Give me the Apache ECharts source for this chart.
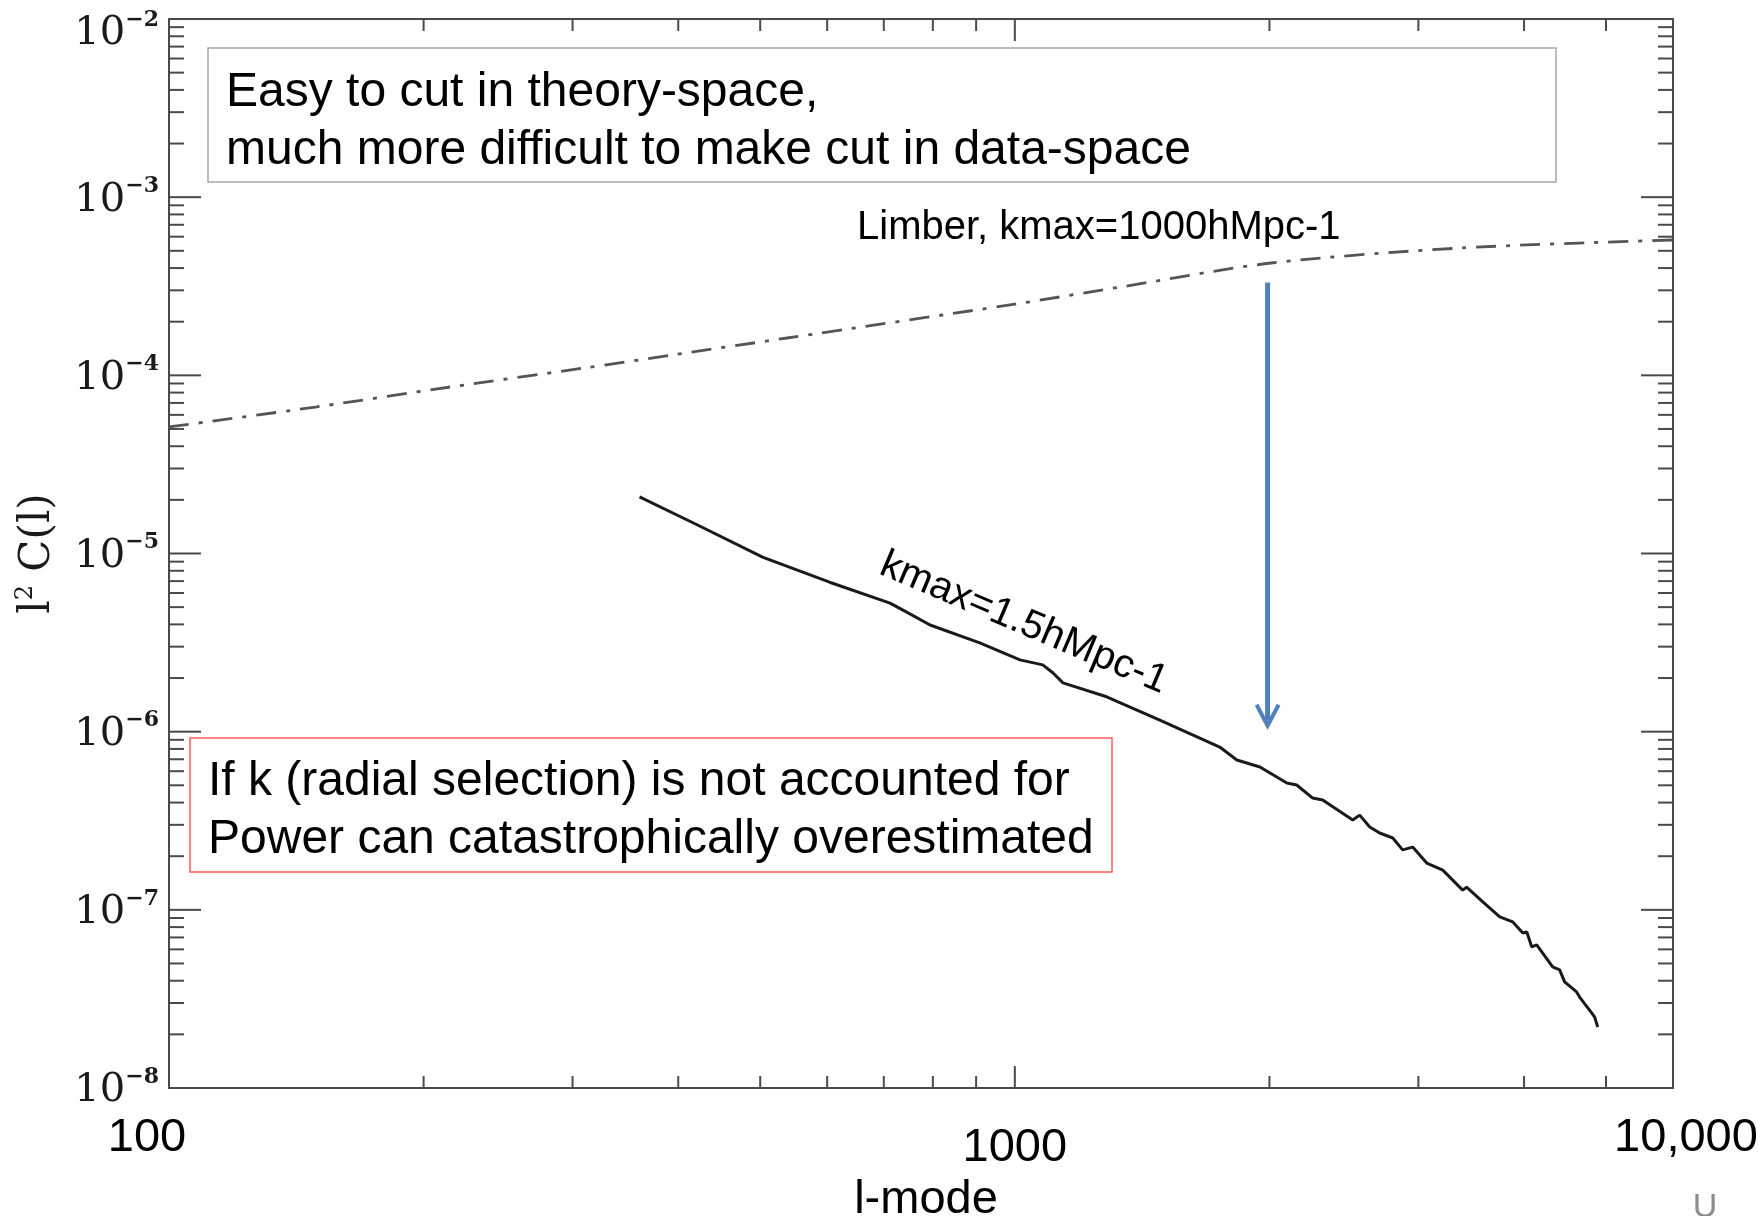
<!DOCTYPE html>
<html><head><meta charset="utf-8">
<script src="https://cdn.jsdelivr.net/npm/echarts@6/dist/echarts.min.js"></script>
<style>html,body{margin:0;padding:0;background:#fff}#c{width:1764px;height:1216px}</style>
</head><body><div id="c"></div>
<script>
// ---- data ----
const X_MIN = 100, X_MAX = 6000, Y_MIN = 1e-8, Y_MAX = 1e-2;

// Limber, kmax=1000 h/Mpc (dash-dot)
const limberL = [100, 149, 215, 310, 393, 538, 1000, 1349, 2010, 3380, 6000];
const limberC = [5.13e-5, 6.64e-5, 8.60e-5, 1.10e-4, 1.30e-4, 1.62e-4, 2.51e-4, 3.16e-4, 4.27e-4, 5.19e-4, 5.75e-4];

// kmax=1.5 h/Mpc (solid)
const kmaxL = [360, 421, 504, 604, 712, 745, 794, 909, 1014, 1079, 1109, 1140, 1284, 1484, 1747, 1830, 1949, 2097, 2154, 2250, 2312, 2509, 2557, 2628, 2700, 2798, 2874, 2954, 3069, 3206, 3384, 3421, 3575, 3744, 3879, 3987, 4030, 4085, 4140, 4324, 4407, 4467, 4615, 4653, 4808, 4848, 4888];
const kmaxC = [2.08e-5, 1.45e-5, 9.5e-6, 6.9e-6, 5.27e-6, 4.69e-6, 3.97e-6, 3.15e-6, 2.53e-6, 2.37e-6, 2.14e-6, 1.88e-6, 1.57e-6, 1.16e-6, 8.2e-7, 6.93e-7, 6.33e-7, 5.15e-7, 5.02e-7, 4.24e-7, 4.13e-7, 3.19e-7, 3.40e-7, 2.92e-7, 2.70e-7, 2.53e-7, 2.17e-7, 2.25e-7, 1.83e-7, 1.67e-7, 1.29e-7, 1.34e-7, 1.107e-7, 9.12e-8, 8.55e-8, 7.42e-8, 7.51e-8, 6.19e-8, 6.35e-8, 4.78e-8, 4.60e-8, 3.94e-8, 3.46e-8, 3.24e-8, 2.64e-8, 2.50e-8, 2.20e-8];

// tick labels / ticks
const xTickLabels = {100: '100', 1000: '1000', 6000: '10,000'};
const xMajorTicks = [1000];
const xMinorTicks = [200, 300, 400, 500, 600, 700, 800, 900, 2000, 3000, 4000, 5000];
const yMajorTicks = [1e-8, 1e-7, 1e-6, 1e-5, 1e-4, 1e-3, 1e-2];
const yMinorMultipliers = [2, 3, 4, 5, 6, 7, 8, 9];

// annotation arrow (data coords)
const arrowL = 1990, arrowTopC = 3.32e-4, arrowTipC = 1.08e-6;

// ---- build ----
const yMinorTicks = [];
yMajorTicks.slice(0, -1).forEach(d => yMinorMultipliers.forEach(m => yMinorTicks.push(m * d)));
const yTickData = yMajorTicks.map(v => [X_MIN, v, 1]).concat(yMinorTicks.map(v => [X_MIN, v, 0]));
const xTickData = xMajorTicks.map(v => [v, Y_MIN, 1]).concat(xMinorTicks.map(v => [v, Y_MIN, 0]));

const AX = '#4a4a4a';
const SANS = '"Liberation Sans", Arial, sans-serif';
const SERIF = '"DejaVu Serif", serif';

const chart = echarts.init(document.getElementById('c'), null, {renderer: 'canvas'});

const option = {
  backgroundColor: '#fff',
  animation: false,
  grid: {left: 169, right: 91, top: 19, bottom: 128, show: true, borderColor: AX, borderWidth: 2, backgroundColor: 'transparent', containLabel: false, outerBoundsMode: 'none'},
  xAxis: {
    type: 'log', logBase: 10, min: X_MIN, max: X_MAX,
    axisLine: {show: true, lineStyle: {color: AX, width: 2}},
    axisTick: {show: false}, splitLine: {show: false}, minorTick: {show: false},
    axisLabel: {
      show: true, margin: 27, showMinLabel: true, showMaxLabel: true,
      formatter: function (v) {
        const k = Math.round(v);
        if (Math.abs(k - 100) < 1) return '{p100|' + xTickLabels[100] + '}';
        if (Math.abs(k - 1000) < 1) return '{p1000|' + xTickLabels[1000] + '}';
        return '{p10k|' + xTickLabels[6000] + '}';
      },
      rich: {
        p100: {fontFamily: SANS, fontSize: 47, color: '#000', padding: [0, 44, 0, 0]},
        p1000: {fontFamily: SANS, fontSize: 47, color: '#000', padding: [10, 0, 0, 0]},
        p10k: {fontFamily: SANS, fontSize: 47, color: '#000', padding: [0, 0, 0, 26]}
      }
    },
    name: 'l-mode', nameLocation: 'middle', nameGap: 86,
    nameTextStyle: {fontFamily: SANS, fontSize: 47, color: '#000', padding: [0, 0, 0, 10]}
  },
  yAxis: {
    type: 'log', logBase: 10, min: Y_MIN, max: Y_MAX,
    axisLine: {show: true, lineStyle: {color: AX, width: 2}},
    axisTick: {show: false}, splitLine: {show: false}, minorTick: {show: false},
    axisLabel: {
      show: true, margin: 10,
      formatter: function (v) {
        const e = Math.round(Math.log10(v));
        if (e === -2) return '{bt|10}{st|\u2212' + Math.abs(e) + '}';
        return '{b|10}{s|\u2212' + Math.abs(e) + '}';
      },
      rich: {
        b: {fontFamily: SERIF, fontSize: 40, color: '#1a1a1a', lineHeight: 40, padding: [6, 0, 0, 0]},
        s: {fontFamily: SERIF, fontSize: 22, fontWeight: 'bold', color: '#1a1a1a', lineHeight: 22, padding: [0, 0, 22, 0]},
        bt: {fontFamily: SERIF, fontSize: 40, color: '#1a1a1a', lineHeight: 40, padding: [30, 0, 0, 0]},
        st: {fontFamily: SERIF, fontSize: 22, fontWeight: 'bold', color: '#1a1a1a', lineHeight: 22, padding: [24, 0, 22, 0]}
      }
    },
    name: '{a|l}{s|2}{a| C(l)}', nameLocation: 'middle', nameGap: 100, nameRotate: 90,
    nameTextStyle: {
      rich: {
        a: {fontFamily: SERIF, fontSize: 42, color: '#1a1a1a', lineHeight: 42},
        s: {fontFamily: SERIF, fontSize: 24, color: '#1a1a1a', lineHeight: 24, padding: [0, 0, 26, 0]}
      }
    }
  },
  series: [
    {
      name: 'Limber', type: 'line', showSymbol: false, smooth: 0.3,
      data: limberL.map((l, i) => [l, limberC[i]]),
      lineStyle: {color: '#555', width: 2.8, type: [20, 10, 4, 10]},
      z: 3
    },
    {
      name: 'kmax', type: 'line', showSymbol: false, smooth: false,
      data: kmaxL.map((l, i) => [l, kmaxC[i]]),
      lineStyle: {color: '#1a1a1a', width: 3},
      z: 3
    },
    {
      type: 'custom', silent: true, clip: false, data: yTickData,
      renderItem: function (params, api) {
        const v = api.value(1), major = api.value(2) === 1;
        const pl = api.coord([X_MIN, v]), pr = api.coord([X_MAX, v]);
        const len = major ? 32 : 15;
        const st = {stroke: AX, lineWidth: 2};
        return {type: 'group', children: [
          {type: 'line', shape: {x1: pl[0], y1: pl[1], x2: pl[0] + len, y2: pl[1]}, style: st},
          {type: 'line', shape: {x1: pr[0], y1: pr[1], x2: pr[0] - len, y2: pr[1]}, style: st}
        ]};
      }
    },
    {
      type: 'custom', silent: true, clip: false, data: xTickData,
      renderItem: function (params, api) {
        const v = api.value(0), major = api.value(2) === 1;
        const pb = api.coord([v, Y_MIN]), pt = api.coord([v, Y_MAX]);
        const len = major ? 22 : 12;
        const st = {stroke: AX, lineWidth: 2};
        return {type: 'group', children: [
          {type: 'line', shape: {x1: pb[0], y1: pb[1], x2: pb[0], y2: pb[1] - len}, style: st},
          {type: 'line', shape: {x1: pt[0], y1: pt[1], x2: pt[0], y2: pt[1] + len}, style: st}
        ]};
      }
    }
  ]
};
chart.setOption(option);

// annotations
const aTop = chart.convertToPixel({gridIndex: 0}, [arrowL, arrowTopC]);
const aTip = chart.convertToPixel({gridIndex: 0}, [arrowL, arrowTipC]);
const BLUE = '#4f81bd';

chart.setOption({
  graphic: [
    {type: 'rect', shape: {x: 208, y: 48, width: 1348, height: 134}, style: {fill: '#fff', stroke: '#a6a6a6', lineWidth: 1.5}, z: 10},
    {type: 'text', x: 226, y: 64, z: 11, style: {text: 'Easy to cut in theory-space,\nmuch more difficult to make cut in data-space', font: '48px ' + SANS, fill: '#000', lineHeight: 58, verticalAlign: 'top', align: 'left'}},
    {type: 'rect', shape: {x: 190, y: 738, width: 922, height: 134}, style: {fill: '#fff', stroke: '#ff5b5b', lineWidth: 1.5}, z: 10},
    {type: 'text', x: 208, y: 753, z: 11, style: {text: 'If k (radial selection) is not accounted for\nPower can catastrophically overestimated', font: '48px ' + SANS, fill: '#000', lineHeight: 58, verticalAlign: 'top', align: 'left'}},
    {type: 'text', x: 857, y: 228, z: 11, style: {text: 'Limber, kmax=1000hMpc-1', font: '40px ' + SANS, fill: '#000', verticalAlign: 'middle', align: 'left'}},
    {type: 'text', x: 882, y: 563, rotation: -23 * Math.PI / 180, z: 11, style: {text: 'kmax=1.5hMpc-1', font: '40px ' + SANS, fill: '#000', verticalAlign: 'middle', align: 'left'}},
    {type: 'line', z: 12, shape: {x1: aTop[0], y1: aTop[1], x2: aTip[0], y2: aTip[1] - 3}, style: {stroke: BLUE, lineWidth: 5}},
    {type: 'polyline', z: 12, shape: {points: [[aTip[0] - 11, aTip[1] - 21], [aTip[0], aTip[1]], [aTip[0] + 11, aTip[1] - 21]]}, style: {stroke: BLUE, lineWidth: 4, fill: 'none'}},
    {type: 'text', x: 1705, y: 1208, z: 11, style: {text: 'U', font: '34px ' + SANS, fill: '#8c8c8c', verticalAlign: 'middle', align: 'center'}}
  ]
});
</script>
</body></html>
